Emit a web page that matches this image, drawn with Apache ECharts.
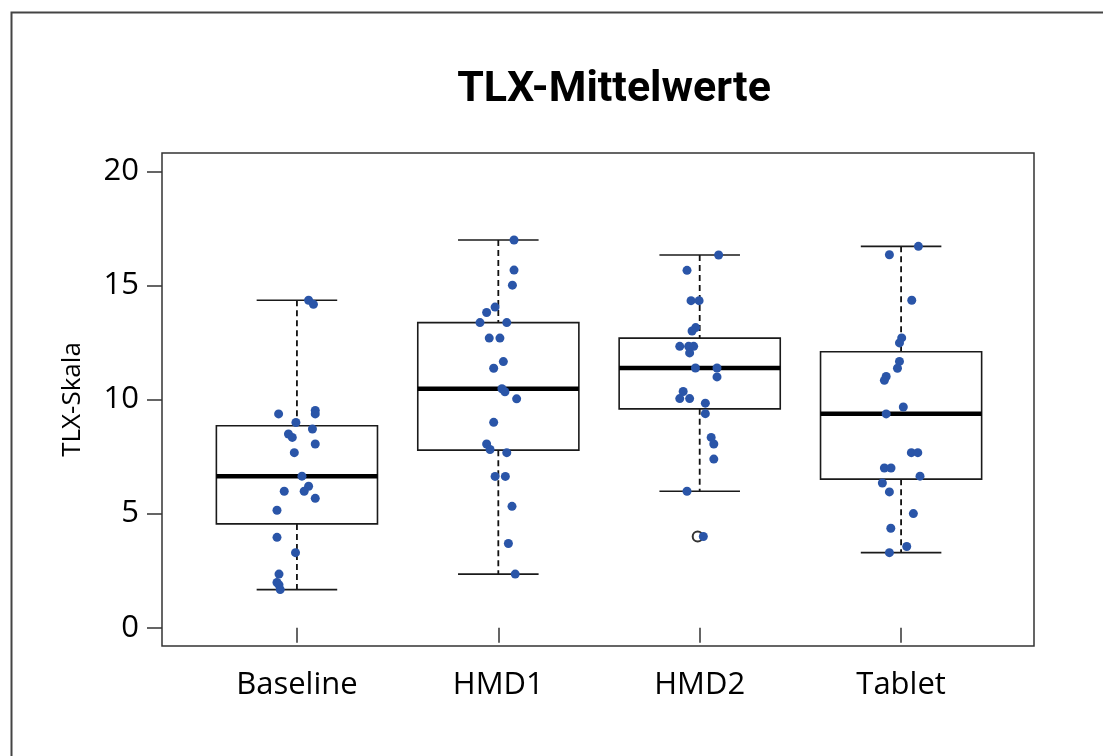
<!DOCTYPE html>
<html>
<head>
<meta charset="utf-8">
<title>TLX-Mittelwerte</title>
<script src="https://cdn.jsdelivr.net/npm/echarts@6/dist/echarts.min.js"></script>
<style>
  html, body { margin: 0; padding: 0; background: #fff; }
  #chart { width: 1103px; height: 756px; }
</style>
</head>
<body>
<div id="chart"></div>
<script>
// Conditions shown on the x axis
const categories = ['Baseline', 'HMD1', 'HMD2', 'Tablet'];
const yTicks = [0, 5, 10, 15, 20];

// Five-number summaries per condition: lower whisker, Q1, median, Q3, upper whisker
const baselineStats = [1.67, 4.55, 6.64, 8.85, 14.35];
const hmd1Stats     = [2.35, 7.78, 10.47, 13.37, 16.99];
const hmd2Stats     = [5.98, 9.59, 11.38, 12.69, 16.33];
const tabletStats   = [3.29, 6.51, 9.38, 12.09, 16.71];

// Outliers: [condition position, value]
const outliers = [[2.99, 4.0]];

// Individual participant scores with their horizontal jitter offsets
const baselineValues = [14.35, 14.17, 9.37, 9.52, 9.37, 8.99, 8.71, 8.49, 8.34, 8.05, 7.67, 6.64, 6.20, 5.98, 5.98, 5.67, 5.15, 3.96, 3.29, 2.35, 1.98, 1.88, 1.67];
const baselineJitter = [0.058, 0.082, -0.091, 0.091, 0.091, -0.005, 0.077, -0.042, -0.023, 0.091, -0.013, 0.025, 0.058, 0.036, -0.063, 0.091, -0.099, -0.099, -0.007, -0.089, -0.099, -0.089, -0.083];

const hmd1Values = [16.99, 15.67, 15.01, 14.05, 13.81, 13.37, 13.37, 12.69, 12.69, 11.66, 11.37, 10.47, 10.34, 10.03, 9.00, 8.05, 7.81, 7.67, 6.63, 6.63, 5.32, 3.69, 2.35];
const hmd1Jitter = [0.078, 0.078, 0.070, -0.016, -0.058, -0.091, 0.042, -0.045, 0.008, 0.025, -0.023, 0.018, 0.033, 0.091, -0.023, -0.058, -0.041, 0.042, -0.016, 0.035, 0.068, 0.050, 0.084];

const hmd2Values = [16.33, 15.66, 14.33, 14.33, 13.15, 13.00, 12.33, 12.33, 12.33, 12.04, 11.38, 11.38, 10.99, 10.35, 10.04, 10.04, 9.84, 9.38, 8.34, 8.05, 7.39, 5.98, 4.00];
const hmd2Jitter = [0.094, -0.063, -0.043, -0.003, -0.020, -0.038, -0.099, -0.055, -0.030, -0.050, -0.021, 0.086, 0.086, -0.082, -0.099, -0.050, 0.028, 0.028, 0.057, 0.070, 0.070, -0.063, 0.018];

const tabletValues = [16.71, 16.34, 14.35, 12.70, 12.48, 11.67, 11.37, 11.01, 10.84, 9.67, 9.37, 7.67, 7.67, 7.00, 7.00, 6.64, 6.34, 5.95, 5.00, 4.36, 3.56, 3.29];
const tabletJitter = [0.086, -0.058, 0.053, 0.003, -0.008, -0.008, -0.018, -0.074, -0.083, 0.011, -0.074, 0.051, 0.083, -0.083, -0.050, 0.094, -0.093, -0.058, 0.061, -0.051, 0.028, -0.058];

const allStats = [baselineStats, hmd1Stats, hmd2Stats, tabletStats];
const allValues = [baselineValues, hmd1Values, hmd2Values, tabletValues];
const allJitter = [baselineJitter, hmd1Jitter, hmd2Jitter, tabletJitter];

const boxData = allStats.map((s, i) => [i + 1].concat(s));
const pointData = [];
allValues.forEach((vals, i) => {
  vals.forEach((v, j) => pointData.push([i + 1 + allJitter[i][j], v]));
});

const BOX_HALF = 0.4;
const CAP_HALF = 0.2;
const INK = '#1a1a1a';

function renderBox(params, api) {
  const x = api.value(0);
  const lo = api.value(1), q1 = api.value(2), med = api.value(3), q3 = api.value(4), hi = api.value(5);
  const tl = api.coord([x - BOX_HALF, q3]);
  const br = api.coord([x + BOX_HALF, q1]);
  const cTop = api.coord([x, hi]);
  const cQ3 = api.coord([x, q3]);
  const cQ1 = api.coord([x, q1]);
  const cLo = api.coord([x, lo]);
  const capL = api.coord([x - CAP_HALF, hi]);
  const capR = api.coord([x + CAP_HALF, hi]);
  const capLl = api.coord([x - CAP_HALF, lo]);
  const capRl = api.coord([x + CAP_HALF, lo]);
  const mL = api.coord([x - BOX_HALF, med]);
  const mR = api.coord([x + BOX_HALF, med]);
  const solid = { stroke: INK, lineWidth: 1.6, fill: null };
  const dashed = { stroke: '#111', lineWidth: 1.8, lineDash: [6, 4], fill: null };
  return {
    type: 'group',
    children: [
      { type: 'line', shape: { x1: cTop[0], y1: cTop[1], x2: cQ3[0], y2: cQ3[1] }, style: dashed },
      { type: 'line', shape: { x1: cQ1[0], y1: cQ1[1], x2: cLo[0], y2: cLo[1] }, style: dashed },
      { type: 'line', shape: { x1: capL[0], y1: capL[1], x2: capR[0], y2: capR[1] }, style: solid },
      { type: 'line', shape: { x1: capLl[0], y1: capLl[1], x2: capRl[0], y2: capRl[1] }, style: solid },
      { type: 'rect', shape: { x: tl[0], y: tl[1], width: br[0] - tl[0], height: br[1] - tl[1] },
        style: { stroke: INK, lineWidth: 1.6, fill: '#fff' } },
      { type: 'line', shape: { x1: mL[0], y1: mL[1], x2: mR[0], y2: mR[1] },
        style: { stroke: '#000', lineWidth: 4.5 } }
    ]
  };
}

const chart = echarts.init(document.getElementById('chart'), null, { renderer: 'canvas' });

chart.setOption({
  backgroundColor: '#fff',
  animation: false,
  graphic: [
    {
      type: 'rect',
      shape: { x: 11.5, y: 12.5, width: 1400, height: 1000 },
      style: { stroke: '#444', lineWidth: 2, fill: null },
      silent: true
    },
    {
      type: 'text',
      x: 614,
      y: 90,
      style: {
        text: 'TLX-Mittelwerte',
        fontFamily: 'Roboto',
        fontWeight: 'bold',
        fontSize: 43,
        fill: '#000',
        align: 'center',
        verticalAlign: 'middle'
      }
    }
  ],
  grid: {
    left: 162,
    right: 69,
    top: 153,
    bottom: 110,
    show: true,
    borderColor: '#333',
    borderWidth: 1.5,
    backgroundColor: 'transparent'
  },
  xAxis: {
    type: 'value',
    min: 0.33,
    max: 4.66,
    axisLine: { show: false },
    splitLine: { show: false },
    axisTick: {
      show: true,
      customValues: [1, 2, 3, 4],
      length: 15,
      lineStyle: { color: '#333', width: 1.5 }
    },
    axisLabel: {
      show: true,
      customValues: [1, 2, 3, 4],
      formatter: v => categories[Math.round(v) - 1],
      fontFamily: 'Open Sans',
      fontSize: 31,
      color: '#000',
      margin: 24
    }
  },
  yAxis: {
    type: 'value',
    min: -0.8,
    max: 20.8,
    name: 'TLX-Skala',
    nameLocation: 'middle',
    nameGap: 76,
    nameTextStyle: { fontFamily: 'Open Sans', fontSize: 26, color: '#000' },
    axisLine: { show: false },
    splitLine: { show: false },
    axisTick: {
      show: true,
      customValues: yTicks,
      length: 15,
      lineStyle: { color: '#333', width: 1.5 }
    },
    axisLabel: {
      show: true,
      customValues: yTicks,
      fontFamily: 'Open Sans',
      fontSize: 31,
      color: '#000',
      margin: 23
    }
  },
  series: [
    {
      type: 'custom',
      name: 'box',
      renderItem: renderBox,
      data: boxData,
      encode: { x: 0, y: [1, 2, 3, 4, 5] },
      z: 2,
      silent: true
    },
    {
      type: 'scatter',
      name: 'outlier',
      data: outliers,
      symbol: 'emptyCircle',
      symbolSize: 10,
      itemStyle: { color: '#000', borderColor: '#000', borderWidth: 1.4 },
      z: 3,
      silent: true
    },
    {
      type: 'scatter',
      name: 'points',
      data: pointData,
      symbol: 'circle',
      symbolSize: 9,
      itemStyle: { color: '#2a55a8', opacity: 1 },
      z: 4,
      silent: true
    }
  ]
});
</script>
</body>
</html>
